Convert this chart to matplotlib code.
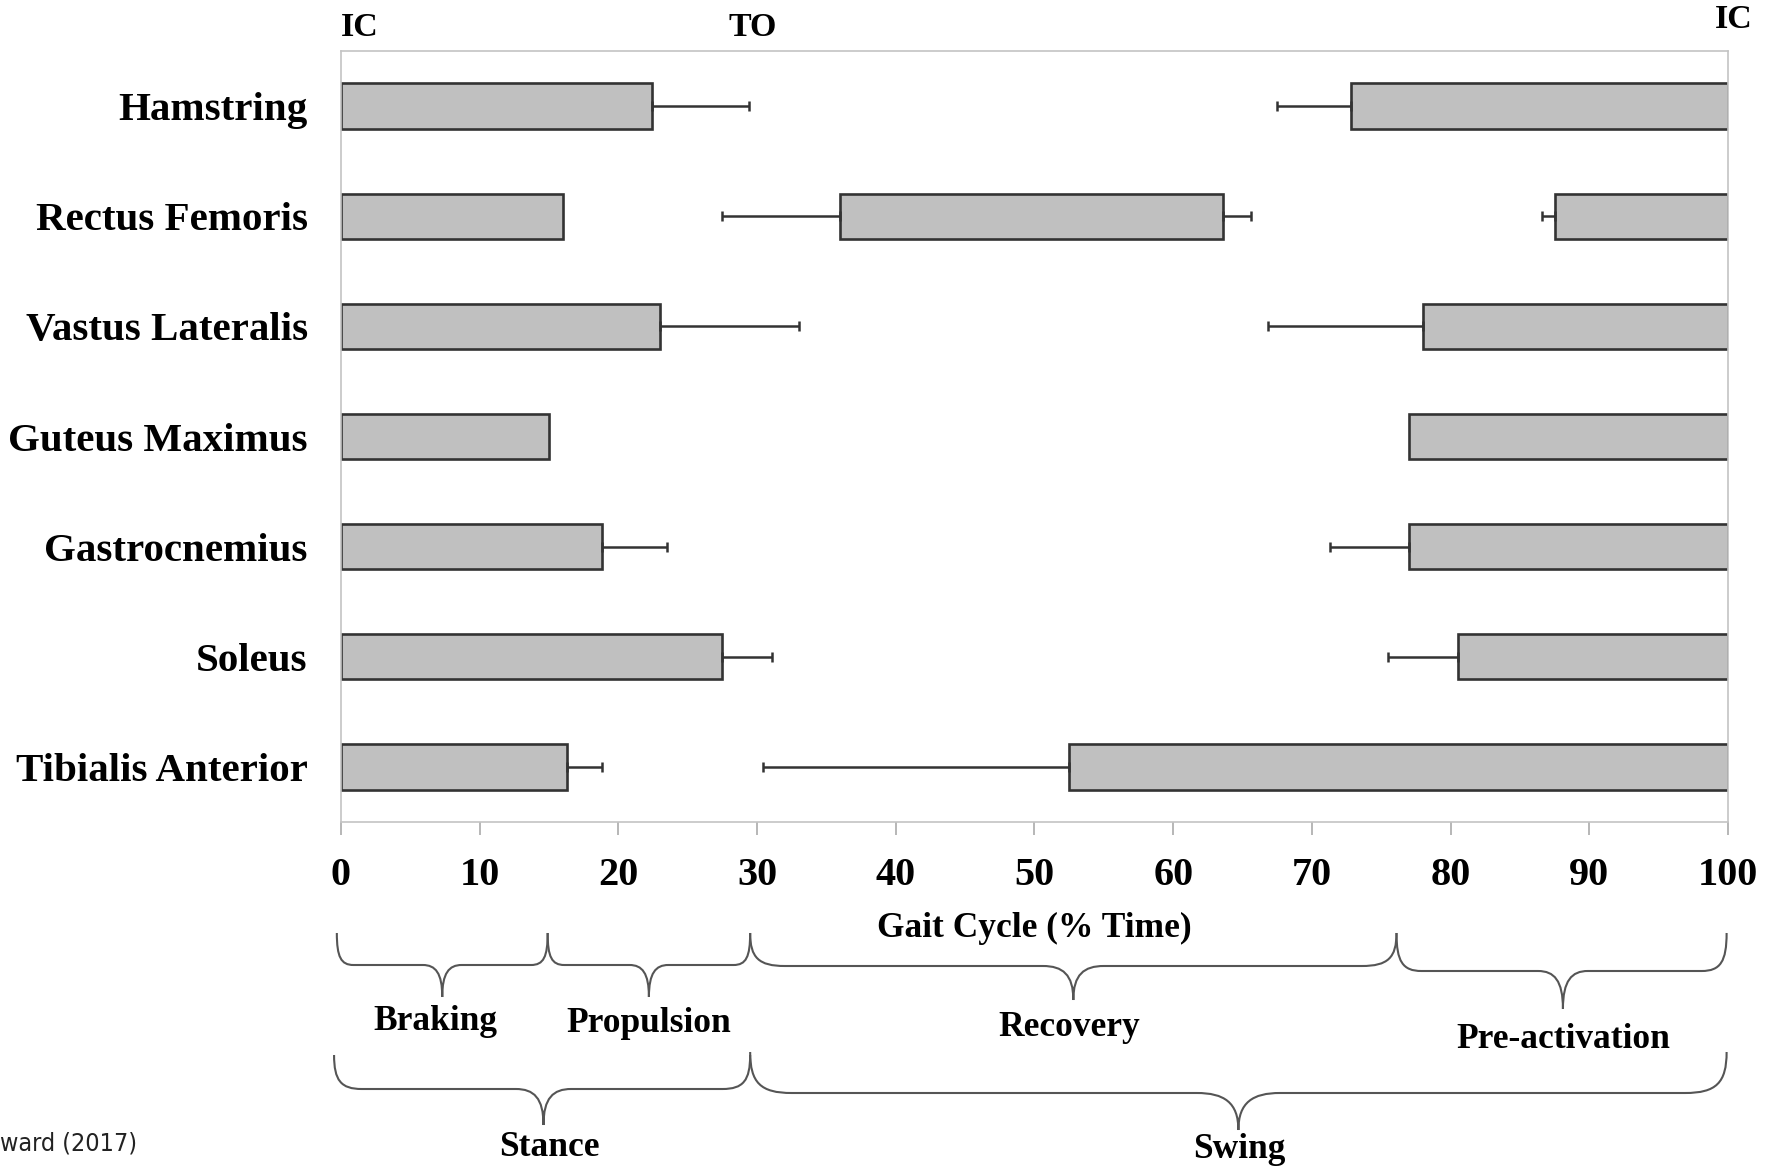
import matplotlib
matplotlib.use("Agg")
import matplotlib.pyplot as plt
from matplotlib.path import Path
from matplotlib.patches import PathPatch
from matplotlib.transforms import blended_transform_factory

# ---------------- data ----------------
muscles = ["Hamstring", "Rectus Femoris", "Vastus Lateralis", "Guteus Maximus",
           "Gastrocnemius", "Soleus", "Tibialis Anterior"]
# activation burst starting at initial contact (0 %)
early_end = [22.4, 16.0, 23.0, 15.0, 18.8, 27.5, 16.3]
early_end_sd = [7.0, 0.0, 10.0, 0.0, 4.7, 3.6, 2.5]
# activation burst ending at next initial contact (100 %)
late_start = [72.8, 87.5, 78.0, 77.0, 77.0, 80.5, 52.5]
late_start_sd = [5.3, 0.9, 11.2, 0.0, 5.7, 5.0, 22.1]
# extra mid-swing burst (Rectus Femoris only)
mid_muscle = ["Rectus Femoris"]
mid_start = [36.0]
mid_start_sd = [8.5]
mid_end = [63.6]
mid_end_sd = [2.0]

xticks = [0, 10, 20, 30, 40, 50, 60, 70, 80, 90, 100]
event_labels = ["IC", "TO", "IC"]
event_pos = [0.0, 29.7, 100.4]

phase_labels = ["Braking", "Propulsion", "Recovery", "Pre-activation", "Stance", "Swing"]
phase_start = [-0.3, 14.9, 29.5, 76.1, -0.5, 29.5]
phase_end = [14.9, 29.5, 76.1, 99.9, 29.5, 99.9]
phase_tip = [7.3, 22.2, 52.8, 88.1, 14.6, 64.7]
phase_label_x = [6.8, 22.2, 52.5, 88.1, 15.0, 64.8]

# ---------------- figure ----------------
W, H = 1783, 1169
fig = plt.figure(figsize=(W / 100, H / 100), dpi=100)


def fy(py):
    return 1 - py / H


def fx(px):
    return px / W


ax = fig.add_axes([fx(341), fy(822), fx(1728) - fx(341), fy(51) - fy(822)])

serif = "Liberation Serif"
bar_kw = dict(height=0.41, color="#c0c0c0", edgecolor="#333333", linewidth=1.9, zorder=2)
err_kw = dict(fmt="none", ecolor="#333333", elinewidth=1.8, capsize=3.5, capthick=1.8, zorder=3)

ypos = list(range(len(muscles)))
ax.barh(ypos, early_end, left=0, **bar_kw)
ax.barh(ypos, [100 - s for s in late_start], left=late_start, **bar_kw)
mid_y = [muscles.index(m) for m in mid_muscle]
ax.barh(mid_y, [e - s for s, e in zip(mid_start, mid_end)], left=mid_start, **bar_kw)

for i in ypos:
    if early_end_sd[i] > 0:
        ax.errorbar(early_end[i], i, xerr=[[0], [early_end_sd[i]]], **err_kw)
    if late_start_sd[i] > 0:
        ax.errorbar(late_start[i], i, xerr=[[late_start_sd[i]], [0]], **err_kw)
for k, yy in enumerate(mid_y):
    ax.errorbar(mid_start[k], yy, xerr=[[mid_start_sd[k]], [0]], **err_kw)
    ax.errorbar(mid_end[k], yy, xerr=[[0], [mid_end_sd[k]]], **err_kw)

ax.set_xlim(0, 100)
ax.set_ylim(len(muscles) - 0.5, -0.5)
ax.set_yticks(ypos)
ax.set_yticklabels(muscles, fontfamily=serif, fontweight="bold", fontsize=29.5)
ax.set_xticks(xticks)
ax.set_xticklabels([str(t) for t in xticks], fontfamily=serif, fontweight="bold", fontsize=29)
ax.tick_params(axis="y", length=0, pad=24)
ax.tick_params(axis="x", direction="out", length=9, width=1.2, color="#aaaaaa", pad=16)
for sp in ax.spines.values():
    sp.set_color("#c4c4c4")
    sp.set_linewidth(1.2)

# x label
ax.text(0.5, fy(928), "Gait Cycle (% Time)", transform=blended_transform_factory(ax.transAxes, fig.transFigure),
        ha="center", va="center", fontfamily=serif, fontweight="bold", fontsize=25.5)

# event labels above plot
tr = blended_transform_factory(ax.transData, fig.transFigure)
ev_y = [28, 27, 19]
ev_ha = ["left", "center", "center"]
for lab, xp, yy, ha in zip(event_labels, event_pos, ev_y, ev_ha):
    ax.text(xp, fy(yy), lab, transform=tr, ha=ha, va="center", fontfamily=serif,
            fontweight="bold", fontsize=24.5, clip_on=False)


# braces
def brace(x0, x1, tip, ytop, yline, ytip, r_end, r_tip):
    def P(x, y):
        return (x, fy(y))
    verts = [P(x0, ytop),
             P(x0, ytop + 0.75 * (yline - ytop)), P(x0 + 0.25 * r_end, yline), P(x0 + r_end, yline),
             P(tip - r_tip, yline),
             P(tip - 0.35 * r_tip, yline), P(tip, yline + 0.25 * (ytip - yline)), P(tip, ytip),
             P(tip, yline + 0.25 * (ytip - yline)), P(tip + 0.35 * r_tip, yline), P(tip + r_tip, yline),
             P(x1 - r_end, yline),
             P(x1 - 0.25 * r_end, yline), P(x1, ytop + 0.75 * (yline - ytop)), P(x1, ytop)]
    codes = [Path.MOVETO, Path.CURVE4, Path.CURVE4, Path.CURVE4, Path.LINETO,
             Path.CURVE4, Path.CURVE4, Path.CURVE4, Path.CURVE4, Path.CURVE4, Path.CURVE4,
             Path.LINETO, Path.CURVE4, Path.CURVE4, Path.CURVE4]
    patch = PathPatch(Path(verts, codes), transform=tr, fill=False, edgecolor="#555555",
                      linewidth=1.5, clip_on=False)
    ax.add_patch(patch)


brace_geom = [  # ytop, yline, ytip, r_end, r_tip, label_y
    (933, 965, 997, 1.2, 1.4, 1022),
    (933, 965, 997, 1.2, 1.4, 1024),
    (933, 966, 1000, 2.5, 2.2, 1028),
    (933, 971, 1009, 1.8, 1.8, 1039),
    (1055, 1089, 1125, 2.0, 2.0, 1147),
    (1052, 1093, 1130, 3.0, 3.0, 1150),
]
for lab, s, e, t, lx, g in zip(phase_labels, phase_start, phase_end, phase_tip, phase_label_x, brace_geom):
    ytop, yline, ytip, r_end, r_tip, ly = g
    brace(s, e, t, ytop, yline, ytip, r_end, r_tip)
    ax.text(lx, fy(ly), lab, transform=tr, ha="center", va="center", fontfamily=serif,
            fontweight="bold", fontsize=25.5, clip_on=False)

# source note (cropped in original)
fig.text(0.0, fy(1143), "ward (2017)", ha="left", va="center", fontfamily="DejaVu Sans",
         fontstretch="condensed", fontsize=18, color="#222222")

fig.savefig("out.png", dpi=100, facecolor="white")
